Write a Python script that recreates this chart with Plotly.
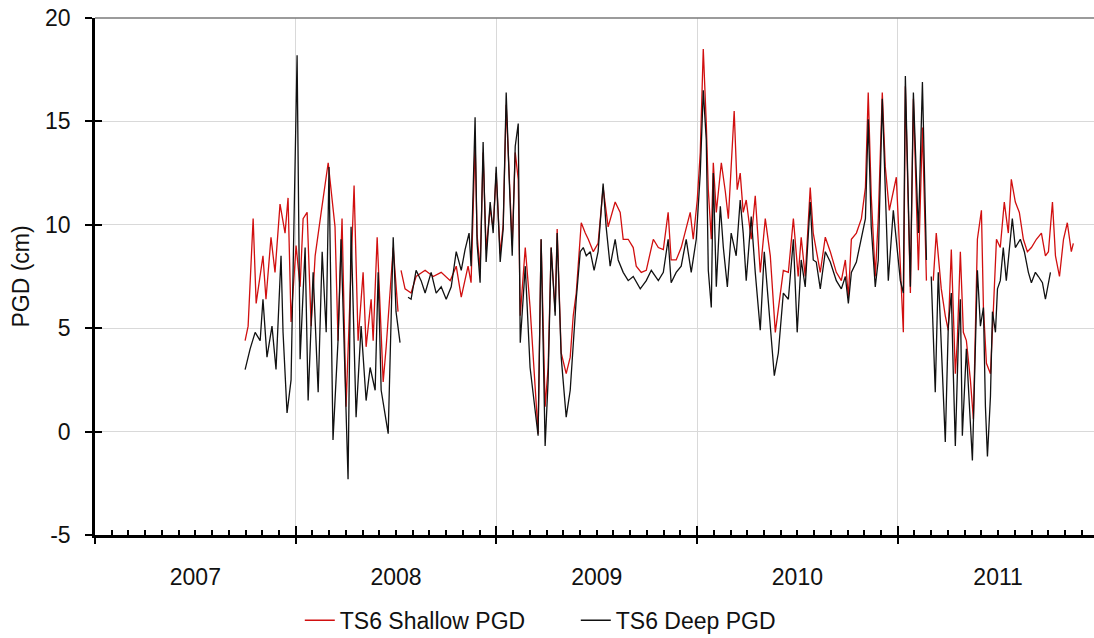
import plotly.graph_objects as go

# Time in decimal years, PGD in cm. None marks a gap in the record.
shallow_t = [
    2007.748, 2007.763, 2007.788, 2007.803, 2007.837, 2007.852, 2007.877, 2007.897, 2007.922, 2007.947,
    2007.962, 2007.977, 2008.002, 2008.022, 2008.037, 2008.057, 2008.077, 2008.097, 2008.127, 2008.162,
    2008.196, 2008.211, 2008.231, 2008.251, 2008.291, 2008.311, 2008.336, 2008.351, 2008.376, 2008.386,
    2008.406, 2008.436, 2008.451, 2008.486, 2008.510, 2008.518,
    2008.525, 2008.545, 2008.575, 2008.600, 2008.645, 2008.685, 2008.725, 2008.770, 2008.800, 2008.825,
    2008.859, 2008.874, 2008.894, 2008.904, 2008.919, 2008.934, 2008.949, 2008.969, 2008.984, 2008.999,
    2009.019, 2009.034, 2009.049, 2009.064, 2009.079, 2009.094, 2009.109, 2009.119, 2009.144, 2009.168,
    2009.193, 2009.208, 2009.223, 2009.243, 2009.258, 2009.273, 2009.293, 2009.303, 2009.323, 2009.348,
    2009.368, 2009.383, 2009.398, 2009.423, 2009.443, 2009.458, 2009.483, 2009.507, 2009.532, 2009.557,
    2009.592, 2009.617, 2009.632, 2009.657, 2009.682, 2009.697, 2009.722, 2009.747, 2009.782, 2009.807,
    2009.832, 2009.856, 2009.871, 2009.896, 2009.921, 2009.946, 2009.966, 2009.981, 2010.001, 2010.016,
    2010.031, 2010.046, 2010.056, 2010.071, 2010.081, 2010.096, 2010.121, 2010.141, 2010.156, 2010.185,
    2010.200, 2010.215, 2010.230, 2010.245, 2010.270, 2010.290, 2010.315, 2010.340, 2010.365, 2010.390,
    2010.405, 2010.430, 2010.455, 2010.480, 2010.504, 2010.519, 2010.539, 2010.564, 2010.579, 2010.594,
    2010.614, 2010.639, 2010.664, 2010.694, 2010.719, 2010.739, 2010.754, 2010.769, 2010.794, 2010.819,
    2010.839, 2010.853, 2010.868, 2010.888, 2010.903, 2010.923, 2010.938, 2010.958, 2010.978, 2010.993,
    2011.013, 2011.028, 2011.038, 2011.063, 2011.078, 2011.103, 2011.123, 2011.143, 2011.160,
    2011.177, 2011.192, 2011.217, 2011.237, 2011.252, 2011.267, 2011.287, 2011.297, 2011.312, 2011.327,
    2011.342, 2011.362, 2011.377, 2011.397, 2011.417, 2011.427, 2011.442, 2011.462, 2011.477, 2011.492,
    2011.511, 2011.531, 2011.551, 2011.566, 2011.586, 2011.606, 2011.626, 2011.646, 2011.666, 2011.691,
    2011.716, 2011.736, 2011.751, 2011.771, 2011.786, 2011.806, 2011.826, 2011.845, 2011.865, 2011.875,
]
shallow_pgd = [
    4.4, 5.1, 10.3, 6.2, 8.5, 6.4, 9.4, 7.7, 11.0, 9.6,
    11.3, 5.3, 9.0, 7.0, 10.3, 10.6, 5.1, 8.5, 10.6, 13.0,
    9.9, 4.4, 10.3, 1.2, 11.9, 4.4, 7.7, 4.1, 6.4, 4.4,
    9.4, 2.4, 4.1, 8.9, 5.8, None,
    7.8, 6.9, 6.7, 7.5, 7.8, 7.5, 7.7, 7.3, 8.0, 6.5,
    8.0, 7.2, 14.0, 9.5, 7.8, 13.5, 8.8, 10.8, 9.8, 12.5,
    8.6, 10.0, 15.8, 12.0, 9.0, 13.5, 12.2, 5.6, 8.9, 6.0,
    2.2, -0.1, 9.3, 1.2, 3.1, 8.9, 5.8, 9.8, 3.8, 2.8,
    3.6, 5.6, 6.7, 10.1, 9.6, 9.3, 8.7, 9.1, 11.8, 9.9,
    11.1, 10.6, 9.3, 9.3, 8.9, 8.0, 7.7, 7.8, 9.3, 8.9,
    8.8, 10.6, 8.3, 8.3, 8.9, 9.9, 10.6, 9.3, 11.2, 13.5,
    18.5, 14.9, 11.7, 9.3, 13.0, 10.6, 13.0, 11.6, 10.3, 15.5,
    11.7, 12.5, 10.6, 11.2, 9.3, 11.4, 7.7, 10.3, 8.5, 4.8,
    6.0, 7.8, 7.7, 10.3, 7.5, 9.4, 7.5, 11.8, 9.6, 8.8,
    7.7, 9.4, 8.7, 7.7, 7.3, 8.3, 6.5, 9.3, 9.6, 10.3,
    11.8, 16.4, 11.4, 7.5, 10.3, 16.4, 12.8, 10.7, 11.6, 12.3,
    8.0, 4.8, 16.7, 6.7, 16.1, 7.8, 14.7, 7.3, None,
    7.3, 9.6, 6.9, 5.6, 4.9, 8.8, 2.8, 4.4, 8.7, 4.8,
    4.4, 2.5, 0.6, 9.3, 10.7, 6.0, 3.3, 2.8, 6.0, 9.3,
    8.9, 11.1, 9.6, 12.2, 11.1, 10.6, 9.3, 8.7, 8.9, 9.3,
    9.6, 8.5, 8.7, 11.1, 8.5, 7.5, 9.3, 10.1, 8.7, 9.1,
]

deep_t = [
    2007.748, 2007.773, 2007.798, 2007.823, 2007.837, 2007.857, 2007.882, 2007.902, 2007.927, 2007.937,
    2007.957, 2007.977, 2008.007, 2008.022, 2008.047, 2008.062, 2008.087, 2008.112, 2008.132, 2008.152,
    2008.166, 2008.186, 2008.211, 2008.226, 2008.261, 2008.276, 2008.301, 2008.326, 2008.351, 2008.371,
    2008.396, 2008.411, 2008.426, 2008.461, 2008.486, 2008.500, 2008.520, 2008.540,
    2008.560, 2008.575, 2008.600, 2008.625, 2008.645, 2008.675, 2008.700, 2008.725, 2008.750, 2008.775,
    2008.800, 2008.825, 2008.844, 2008.864, 2008.874, 2008.894, 2008.904, 2008.919, 2008.934, 2008.949,
    2008.969, 2008.984, 2008.999, 2009.019, 2009.034, 2009.049, 2009.064, 2009.079, 2009.094, 2009.109,
    2009.119, 2009.144, 2009.168, 2009.193, 2009.208, 2009.223, 2009.243, 2009.258, 2009.273, 2009.293,
    2009.303, 2009.323, 2009.348, 2009.368, 2009.383, 2009.398, 2009.418, 2009.433, 2009.448, 2009.468,
    2009.487, 2009.507, 2009.532, 2009.547, 2009.567, 2009.592, 2009.607, 2009.632, 2009.657, 2009.682,
    2009.717, 2009.747, 2009.772, 2009.807, 2009.832, 2009.856, 2009.871, 2009.896, 2009.921, 2009.946,
    2009.971, 2009.996, 2010.016, 2010.031, 2010.046, 2010.056, 2010.071, 2010.081, 2010.096, 2010.116,
    2010.131, 2010.151, 2010.170, 2010.195, 2010.215, 2010.230, 2010.245, 2010.270, 2010.290, 2010.315,
    2010.335, 2010.360, 2010.385, 2010.405, 2010.430, 2010.455, 2010.480, 2010.499, 2010.519, 2010.539,
    2010.564, 2010.579, 2010.594, 2010.614, 2010.639, 2010.664, 2010.679, 2010.694, 2010.719, 2010.739,
    2010.754, 2010.769, 2010.794, 2010.819, 2010.839, 2010.853, 2010.868, 2010.888, 2010.903, 2010.923,
    2010.938, 2010.953, 2010.978, 2010.993, 2011.013, 2011.028, 2011.038, 2011.063, 2011.078, 2011.103,
    2011.123, 2011.143, 2011.155,
    2011.167, 2011.187, 2011.202, 2011.217, 2011.237, 2011.252, 2011.267, 2011.277, 2011.287, 2011.302,
    2011.312, 2011.322, 2011.342, 2011.362, 2011.372, 2011.397, 2011.412, 2011.427, 2011.437, 2011.447,
    2011.462, 2011.472, 2011.487, 2011.497, 2011.511, 2011.526, 2011.541, 2011.561, 2011.571, 2011.586,
    2011.611, 2011.631, 2011.651, 2011.666, 2011.686, 2011.701, 2011.721, 2011.736, 2011.751, 2011.761,
]
deep_pgd = [
    3.0, 4.0, 4.8, 4.4, 6.4, 3.6, 5.1, 3.0, 8.5, 4.8,
    0.9, 2.5, 18.2, 3.5, 8.9, 1.5, 7.7, 1.9, 8.7, 4.8,
    12.8, -0.4, 4.4, 9.3, -2.3, 9.9, 0.7, 5.1, 1.5, 3.1,
    2.0, 7.7, 2.0, -0.1, 9.4, 5.8, 4.3, None,
    6.5, 6.4, 7.8, 7.3, 6.7, 7.7, 6.7, 7.0, 6.4, 7.0,
    8.7, 7.8, 8.8, 9.6, 8.0, 15.2, 9.1, 7.2, 14.0, 8.2,
    11.1, 9.6, 12.8, 8.2, 9.8, 16.4, 12.2, 8.5, 13.8, 14.9,
    4.3, 8.0, 3.1, 1.2, -0.2, 9.3, -0.7, 2.5, 8.9, 5.6,
    9.6, 3.6, 0.7, 2.0, 4.4, 6.4, 8.7, 8.9, 8.5, 8.7,
    7.8, 8.7, 12.0, 9.9, 8.0, 9.3, 8.3, 7.7, 7.3, 7.5,
    6.9, 7.3, 7.8, 7.3, 7.7, 9.3, 7.2, 7.7, 8.0, 9.3,
    7.7, 9.3, 12.5, 16.5, 14.1, 7.8, 6.0, 12.5, 7.0, 10.9,
    8.9, 7.0, 9.6, 8.5, 11.2, 9.6, 7.3, 10.4, 7.7, 4.9,
    8.7, 5.8, 2.7, 3.8, 6.7, 6.4, 9.3, 4.8, 8.3, 7.0,
    11.1, 8.3, 8.2, 6.9, 8.7, 8.2, 7.7, 7.3, 6.9, 7.5,
    6.2, 7.7, 8.2, 9.3, 10.3, 15.1, 9.9, 7.0, 8.3, 16.1,
    11.6, 7.3, 10.7, 9.1, 7.3, 6.7, 17.2, 7.0, 16.4, 9.6,
    16.9, 8.3, None,
    7.5, 1.9, 7.7, 4.1, -0.5, 5.1, 6.7, 2.8, -0.7, 4.4,
    6.4, -0.2, 4.0, 0.4, -1.4, 7.8, 5.1, 6.0, 1.2, -1.2,
    1.7, 5.8, 4.8, 6.9, 7.3, 8.9, 7.3, 9.3, 10.3, 8.9,
    9.3, 8.7, 7.7, 7.2, 7.7, 7.5, 7.2, 6.4, 7.3, 7.7,
]

years = [2007, 2008, 2009, 2010, 2011]
y_ticks = [-5, 0, 5, 10, 15, 20]
y_ticktext = ["-5", "0", "5", "10", "15", "20"]
x_range = [2007.0, 2011.978]
y_range = [-5, 20]

FONT = "Arial, Liberation Sans, sans-serif"
FS = 23
GRID = "#d9d9d9"

fig = go.Figure()
fig.add_trace(go.Scatter(
    x=shallow_t, y=shallow_pgd, mode="lines", name="TS6 Shallow PGD",
    line=dict(color="#d10f0f", width=1.3), connectgaps=False,
))
fig.add_trace(go.Scatter(
    x=deep_t, y=deep_pgd, mode="lines", name="TS6 Deep PGD",
    line=dict(color="#111111", width=1.3), connectgaps=False,
))

fig.update_layout(
    width=1094, height=638,
    margin=dict(l=95, r=0, t=18, b=103, autoexpand=False),
    paper_bgcolor="white", plot_bgcolor="white",
    font=dict(family=FONT, size=FS, color="#111111"),
    showlegend=True,
    legend=dict(
        orientation="h", x=0.205, xanchor="left", y=-0.165, yanchor="middle",
        font=dict(size=FS), entrywidth=231, entrywidthmode="pixels",
        tracegroupgap=0,
    ),
    # year labels centred in each year
    xaxis=dict(
        range=x_range, tickmode="array",
        tickvals=[y + 0.5 for y in years], ticktext=[str(y) for y in years],
        ticks="", showgrid=False, zeroline=False,
        showline=True, linecolor="#000000", linewidth=2.5,
        ticklabelstandoff=20, tickfont=dict(size=FS),
    ),
    # year boundaries: gridlines, crossing ticks, monthly minor ticks
    xaxis2=dict(
        range=x_range, overlaying="x", anchor="y", side="bottom",
        tickmode="linear", tick0=2007, dtick=1,
        ticks="inside", ticklen=9, tickwidth=2, tickcolor="#000000",
        showticklabels=False, showgrid=True, gridcolor=GRID, gridwidth=1,
        zeroline=False, showline=False,
        minor=dict(tick0=2007, dtick=1 / 12, ticks="inside", ticklen=5,
                   tickwidth=1.5, tickcolor="#000000", showgrid=False),
    ),
    xaxis3=dict(
        range=x_range, overlaying="x", anchor="y", side="bottom",
        tickmode="linear", tick0=2007, dtick=1,
        ticks="outside", ticklen=8, tickwidth=2, tickcolor="#000000",
        showticklabels=False, showgrid=False, zeroline=False, showline=False,
    ),
    yaxis=dict(
        range=y_range, tickmode="array", tickvals=y_ticks, ticktext=y_ticktext,
        ticks="outside", ticklen=7, tickwidth=2, tickcolor="#000000",
        showgrid=True, gridcolor=GRID, gridwidth=1, zeroline=False,
        showline=True, linecolor="#000000", linewidth=2.5,
        ticklabelstandoff=10, tickfont=dict(size=FS),
        title=dict(text="PGD (cm)", font=dict(size=FS), standoff=10),
    ),
    yaxis2=dict(
        range=y_range, overlaying="y", anchor="x", side="left",
        tickmode="array", tickvals=y_ticks,
        ticks="inside", ticklen=7, tickwidth=2, tickcolor="#000000",
        showticklabels=False, showgrid=False, zeroline=False, showline=False,
    ),
)

# hidden traces so the overlay axes are drawn
for xa, ya in (("x2", "y"), ("x3", "y"), ("x", "y2")):
    fig.add_trace(go.Scatter(x=[None], y=[None], xaxis=xa, yaxis=ya,
                             showlegend=False, hoverinfo="skip"))

# frame line along the top of the plot
fig.add_shape(type="line", xref="paper", yref="paper", x0=0, x1=1, y0=1, y1=1,
              line=dict(color="#7a7a7a", width=1.5))

fig.write_html("out.html")
